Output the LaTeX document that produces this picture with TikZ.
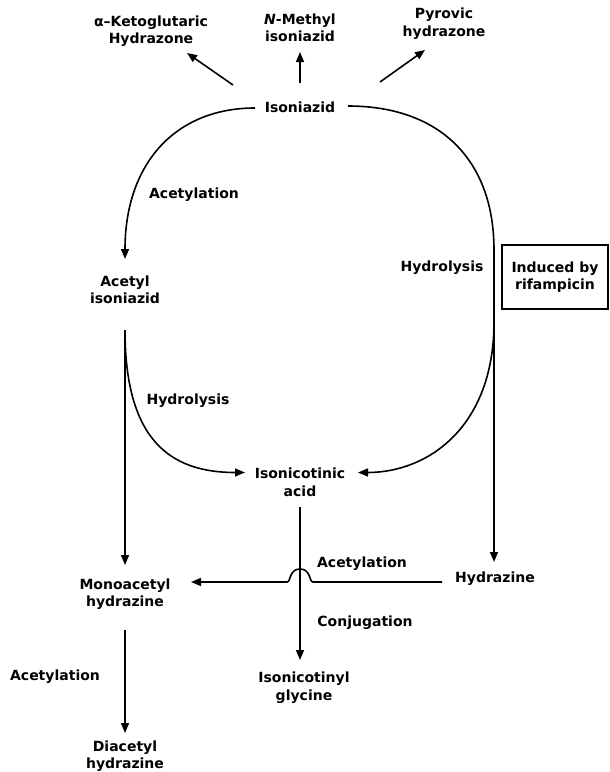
\documentclass[tikz,border=0pt]{standalone}
\usepackage{fontspec}
\setmainfont{DejaVu Sans}
\usetikzlibrary{arrows.meta,calc}
\begin{document}
\begin{tikzpicture}[x=1pt,y=-1pt,
  lbl/.style={font=\bfseries\fontsize{14}{17.5}\selectfont, align=center, inner sep=0pt},
  con/.style={line width=1.6pt},
  arr/.style={con, -{Triangle[length=10pt,width=8pt]}}]
\useasboundingbox (0,0) rectangle (610,772);
% compounds
\node[lbl] (keto) at (151,31) {α–Ketoglutaric\\Hydrazone};
\node[lbl] (nmethyl) at (300,28) {\textit{N}-Methyl\\isoniazid};
\node[lbl] (pyrovic) at (444,23.5) {Pyrovic\\hydrazone};
\node[lbl] (isoniazid) at (300,107) {Isoniazid};
\node[lbl] (acetiso) at (125,290) {Acetyl\\isoniazid};
\node[lbl] (isonic) at (300,482.5) {Isonicotinic\\acid};
\node[lbl] (hydrazine) at (495,579) {Hydrazine};
\node[lbl] (monoac) at (125,594) {Monoacetyl\\hydrazine};
\node[lbl] (glycine) at (304,687.5) {Isonicotinyl\\glycine};
\node[lbl] (diac) at (125,756) {Diacetyl\\hydrazine};
\node[lbl, draw, line width=1.1pt, minimum width=106pt, minimum height=64pt] (induced) at (555,277) {Induced by\\rifampicin};
% reaction labels
\node[lbl] (l1) at (194,195) {Acetylation};
\node[lbl] (l2) at (442,268) {Hydrolysis};
\node[lbl] (l3) at (188,401) {Hydrolysis};
\node[lbl] (l4) at (362,564) {Acetylation};
\node[lbl] (l5) at (365,623) {Conjugation};
\node[lbl] (l6) at (55,677) {Acetylation};
% helper points
\coordinate (rb) at (494,250);
\coordinate (rj) at (494,322);
\coordinate (cross) at (300,582);
% connectors
\draw[arr] ($(isoniazid)+(-67,-22)$) -- ($(keto)+(36,22)$);
\draw[arr] ($(isoniazid)+(0,-24)$) -- ($(nmethyl)+(0,24)$);
\draw[arr] ($(isoniazid)+(80,-25)$) -- ($(pyrovic)+(-19,26.5)$);
\draw[arr] ($(isoniazid)+(-45,1)$) .. controls +(-80,0) and +(0,-95) .. ($(acetiso)+(0,-31)$);
\draw[arr] ($(isoniazid)+(48,-1)$) .. controls +(92,0) and +(0,-90) .. (rb) -- ($(hydrazine)+(-1,-17)$);
\draw[arr] (rj) .. controls +(0,105) and +(70,0) .. ($(isonic)+(58,-10)$);
\draw[arr] ($(acetiso)+(0,40)$) .. controls +(0,110) and +(-75,0) .. ($(isonic)+(-55,-10)$);
\draw[arr] ($(acetiso)+(0,40)$) -- ($(monoac)+(0,-29)$);
\draw[arr] ($(monoac)+(0,36)$) -- ($(diac)+(0,-23)$);
\draw[arr] ($(isonic)+(0,24.5)$) -- ($(glycine)+(-4,-27.5)$);
\draw[arr] ($(hydrazine)+(-53,3)$) -- ($(cross)+(13,0)$)
  .. controls +(-4,0) and +(11,0) .. ($(cross)+(0,-13)$)
  .. controls +(-11,0) and +(4,0) .. ($(cross)+(-13,0)$)
  -- ($(monoac)+(66,-12)$);
\end{tikzpicture}
\end{document}
